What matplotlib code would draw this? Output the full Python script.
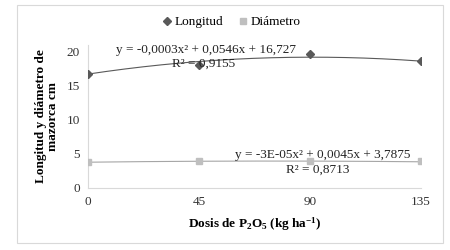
import matplotlib.pyplot as plt
import numpy as np
from matplotlib.patches import Rectangle

plt.rcParams['font.family'] = ['Liberation Serif', 'DejaVu Serif']
plt.rcParams['mathtext.fontset'] = 'custom'
plt.rcParams['mathtext.rm'] = 'Liberation Serif'
plt.rcParams['mathtext.bf'] = 'Liberation Serif:bold'
plt.rcParams['mathtext.it'] = 'Liberation Serif:italic'

dosis = [0, 45, 90, 135]
longitud = [16.8, 18.1, 19.7, 18.7]
diametro = [3.8, 3.95, 4.0, 3.9]

# trendline coefficients shown on the chart
coef_long = [-0.0003, 0.0546, 16.727]
coef_diam = [-3e-05, 0.0045, 3.7875]
eq_long = "y = -0,0003x² + 0,0546x + 16,727"
r2_long = "R² = 0,9155"
eq_diam = "y = -3E-05x² + 0,0045x + 3,7875"
r2_diam = "R² = 0,8713"

fs = 9.5

fig = plt.figure(figsize=(4.5, 2.5), dpi=100)
fig.patches.append(Rectangle((17/450, 1 - 243/250), 426/450, 238/250,
                             transform=fig.transFigure, fill=False,
                             edgecolor='#d9d9d9', linewidth=0.8))

ax = fig.add_axes([88/450, 1 - 188/250, 333/450, 143/250])

xs = np.linspace(0, 135, 200)
ax.plot(xs, np.polyval(coef_long, xs), color='#595959', linewidth=0.8, zorder=2)
ax.plot(xs, np.polyval(coef_diam, xs), color='#a6a6a6', linewidth=0.8, zorder=2)
ax.plot(dosis, longitud, linestyle='none', marker='D', markersize=4.5,
        color='#595959', label='Longitud', zorder=3)
ax.plot(dosis, diametro, linestyle='none', marker='s', markersize=5,
        color='#bfbfbf', label='Diámetro', zorder=3)

ax.set_xlim(0, 135)
ax.set_ylim(0, 21)
ax.set_xticks(dosis)
ax.set_yticks([0, 5, 10, 15, 20])
ax.tick_params(length=0, labelsize=fs, colors='#333333', pad=6)

for s in ['top', 'right']:
    ax.spines[s].set_visible(False)
for s in ['left', 'bottom']:
    ax.spines[s].set_color('#d9d9d9')
    ax.spines[s].set_linewidth(0.8)

ax.set_xlabel(r'Dosis de P$_\mathbf{2}$O$_\mathbf{5}$ (kg ha$^\mathbf{-1}$)',
              fontsize=fs, fontweight='bold', labelpad=5)
ax.set_ylabel('Longitud y diámetro de\nmazorca cm', fontsize=fs,
              fontweight='bold', labelpad=5, linespacing=1.0)

ax.text(48, 20.3, eq_long, fontsize=fs, ha='center', va='center', color='#222222')
ax.text(47, 18.2, r2_long, fontsize=fs, ha='center', va='center', color='#222222')
ax.text(95, 4.9, eq_diam, fontsize=fs, ha='center', va='center', color='#222222')
ax.text(93, 2.7, r2_diam, fontsize=fs, ha='center', va='center', color='#222222')

fig.legend(loc='center', bbox_to_anchor=(232/450, 1 - 22/250), ncol=2,
           frameon=False, fontsize=fs, handlelength=0.6, handletextpad=0.3,
           columnspacing=1.2)

fig.savefig('out.png', dpi=100)
